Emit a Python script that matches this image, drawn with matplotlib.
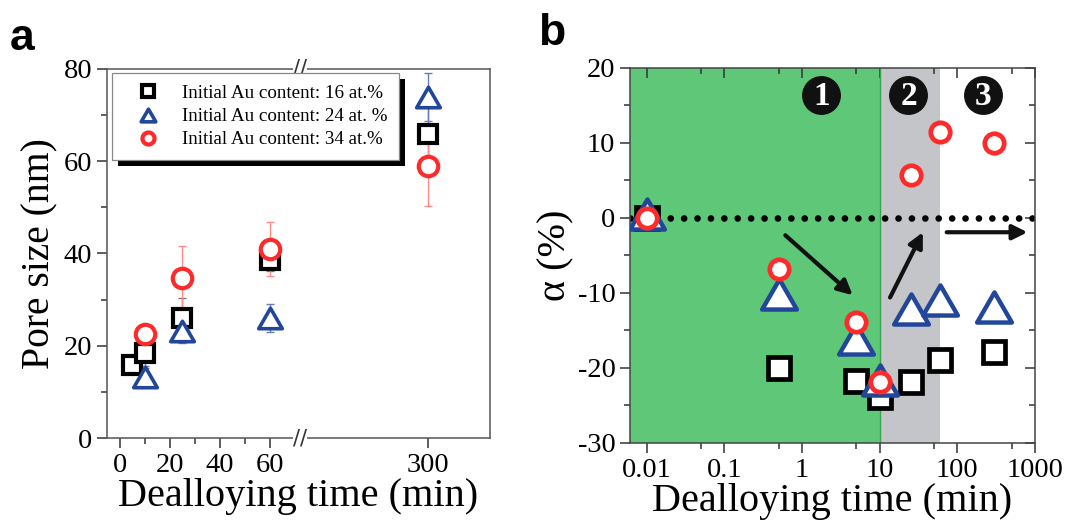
import numpy as np
import matplotlib
matplotlib.use('Agg')
import matplotlib.pyplot as plt
import matplotlib.ticker as mticker
from matplotlib.path import Path
from matplotlib.markers import MarkerStyle
from matplotlib.patches import Rectangle
from matplotlib.transforms import IdentityTransform, blended_transform_factory

plt.rcParams['font.family'] = 'Liberation Serif'
plt.rcParams['axes.unicode_minus'] = False

# ---- data, panel a (pore size) ----
sq_x = [5, 10, 25, 60, 300]
sq_y = [15.8, 18.4, 26.0, 38.6, 65.8]
sq_err = [0.8, 3.2, 4.4, 2.5, 6.5]

tri_x = [10, 25, 60, 300]
tri_y = [13.3, 23.2, 26.0, 74.0]
tri_err = [2.3, 2.5, 3.0, 5.2]

cir_x = [10, 25, 60, 300]
cir_y = [22.5, 34.6, 41.0, 59.0]
cir_err = [1.5, 7.0, 5.8, 8.6]

labels = ['Initial Au content: 16 at.%',
          'Initial Au content: 24 at. %',
          'Initial Au content: 34 at.%']

# ---- data, panel b (alpha) ----
b_x = [0.01, 0.5, 5, 10, 25, 60, 300]
sq_b = [0, -20.0, -21.7, -23.9, -21.9, -18.9, -17.9]
tri_b = [0.5, -10.1, -16.1, -21.6, -12.1, -11.0, -11.9]
cir_b = [0, -6.8, -13.9, -21.9, 5.7, 11.5, 10.0]

BLACK = '#000000'
BLUE = '#22479a'
RED = '#ff2b2b'

# equilateral triangle marker with rounded joins
tri_path = Path([(-1, -0.866), (1, -0.866), (0, 0.866), (-1, -0.866)],
                [Path.MOVETO, Path.LINETO, Path.LINETO, Path.CLOSEPOLY])
tri_marker = MarkerStyle(tri_path, joinstyle='round')

fig = plt.figure(figsize=(10.69, 5.25), dpi=100)
ax1 = fig.add_axes([0.1001, 0.1657, 0.3583, 0.7029])
ax2 = fig.add_axes([0.5893, 0.1562, 0.3789, 0.7143])

# ---------------- panel a ----------------
brk = 72
k = 0.2246


def fwd(x):
    x = np.asarray(x, dtype=float)
    return np.where(x <= brk, x, brk + (x - brk) * k)


def inv(y):
    y = np.asarray(y, dtype=float)
    return np.where(y <= brk, y, brk + (y - brk) / k)


ax1.set_xscale('function', functions=(fwd, inv))

ax1.errorbar(sq_x, sq_y, yerr=sq_err, fmt='none', ecolor='#777777',
             elinewidth=1, capsize=3, zorder=2)
ax1.errorbar(tri_x, tri_y, yerr=tri_err, fmt='none', ecolor='#6a7cbc',
             elinewidth=1, capsize=3, zorder=2)
ax1.errorbar(cir_x, cir_y, yerr=cir_err, fmt='none', ecolor='#ff8a8a',
             elinewidth=1, capsize=3, zorder=2)

h1, = ax1.plot(sq_x, sq_y, 's', ms=13, mew=3, mec=BLACK, mfc='white',
               ls='none', zorder=3)
h2, = ax1.plot(tri_x, tri_y, marker=tri_marker, ms=17, mew=2.6, mec=BLUE,
               mfc='white', ls='none', zorder=4)
h3, = ax1.plot(cir_x, cir_y, 'o', ms=14, mew=3, mec=RED, mfc='white',
               ls='none', zorder=5)

ax1.set_xlim(-5, 410)
ax1.set_ylim(0, 80)
ax1.xaxis.set_major_locator(mticker.FixedLocator([0, 20, 40, 60, 300]))
ax1.xaxis.set_minor_locator(mticker.FixedLocator([10, 30, 50]))
ax1.xaxis.set_major_formatter(mticker.FixedFormatter(['0', '20', '40', '60', '300']))
ax1.yaxis.set_major_locator(mticker.MultipleLocator(20))
ax1.yaxis.set_minor_locator(mticker.MultipleLocator(10))
ax1.tick_params(which='both', direction='out', top=False, right=False,
                labelsize=20.5, width=1.1, color='#333333')
ax1.tick_params(which='major', length=7)
ax1.tick_params(which='minor', length=4)
ax1.tick_params(axis='x', pad=4)
for s in ax1.spines.values():
    s.set_color('#555555')
    s.set_linewidth(1.1)

ax1.set_xlabel('Dealloying time (min)', fontsize=29, labelpad=0)
ax1.set_ylabel('Pore size (nm)', fontsize=28.5, labelpad=4)

# axis break marks
bt = blended_transform_factory(ax1.transData, ax1.transAxes)
for yy in (0, 1):
    ax1.text(brk, yy, '//', transform=bt, ha='center', va='center',
             fontsize=15, family='DejaVu Sans', color='#333333',
             bbox=dict(facecolor='white', edgecolor='none', pad=0),
             clip_on=False, zorder=6)

leg = ax1.legend([h1, h2, h3], labels, loc='upper left',
                 bbox_to_anchor=(0.012, 0.988), fontsize=13.7, markerscale=0.62,
                 frameon=True, fancybox=False, edgecolor='#888888',
                 framealpha=1, borderpad=0.6, labelspacing=0.3,
                 handlelength=2.6, handletextpad=0.5, borderaxespad=0)
leg.get_frame().set_linewidth(0.9)
leg.set_zorder(10)

# ---------------- panel b ----------------
ax2.set_xscale('log')
x_left = 10 ** -2.215
ax2.axvspan(x_left, 10, color='#5ec878', zorder=0, lw=0)
ax2.axvline(10, color='#3aa34f', lw=1, zorder=0.5)
ax2.axvspan(10, 60, color='#c4c5c9', zorder=0, lw=0)

ax2.axhline(0, color='black', lw=4.8, ls=(0, (0.01, 2.0)),
            dash_capstyle='round', zorder=1)

ax2.plot(b_x, sq_b, 's', ms=16, mew=3.4, mec=BLACK, mfc='white',
         ls='none', zorder=3)
ax2.plot(b_x, tri_b, marker=tri_marker, ms=25, mew=3.2, mec=BLUE,
         mfc='white', ls='none', zorder=4)
ax2.plot(b_x, cir_b, 'o', ms=14, mew=3.4, mec=RED, mfc='white',
         ls='none', zorder=5)

arrow_kw = dict(arrowstyle='-|>', color='#111111', lw=3, mutation_scale=22,
                shrinkA=0, shrinkB=0)
ax2.annotate('', xy=(4.5, -10.3), xytext=(0.61, -2.3), arrowprops=arrow_kw)
ax2.annotate('', xy=(36, -1.9), xytext=(13.6, -10.6), arrowprops=arrow_kw)
ax2.annotate('', xy=(800, -1.9), xytext=(73, -1.9), arrowprops=arrow_kw)

# region labels
for xn, num in zip([1.78, 23.5, 213], ['1', '2', '3']):
    ax2.plot([xn], [16.4], 'o', ms=27, color='#111111', zorder=6)
    ax2.text(xn, 16.2, num, ha='center', va='center', color='white',
             fontsize=24, fontweight='bold', zorder=7)

ax2.set_xlim(x_left, 1000)
ax2.set_ylim(-30, 20)
ax2.xaxis.set_major_locator(mticker.FixedLocator([0.01, 0.1, 1, 10, 100, 1000]))
ax2.xaxis.set_major_formatter(mticker.FixedFormatter(['0.01', '0.1', '1', '10', '100', '1000']))
ax2.xaxis.set_minor_locator(mticker.FixedLocator([0.05, 0.5, 5, 50, 500]))
ax2.xaxis.set_minor_formatter(mticker.NullFormatter())
ax2.yaxis.set_major_locator(mticker.MultipleLocator(10))
ax2.yaxis.set_minor_locator(mticker.MultipleLocator(5))
ax2.tick_params(which='both', direction='out', labelsize=20.5, width=1.1,
                color='#333333')
ax2.tick_params(which='major', length=7)
ax2.tick_params(which='minor', length=4)
ax2.tick_params(axis='x', pad=4)
# inward ticks on top and right
ax2t = ax2.secondary_xaxis('top')
ax2t.set_xticks([0.01, 0.1, 1, 10, 100, 1000])
ax2t.xaxis.set_minor_locator(mticker.FixedLocator([0.05, 0.5, 5, 50, 500]))
ax2t.tick_params(which='both', direction='in', labeltop=False, width=1.1,
                 color='#333333')
ax2t.tick_params(which='major', length=7)
ax2t.tick_params(which='minor', length=4)
ax2t.xaxis.set_minor_formatter(mticker.NullFormatter())
ax2t.spines['top'].set_visible(False)
ax2r = ax2.secondary_yaxis('right')
ax2r.yaxis.set_major_locator(mticker.MultipleLocator(10))
ax2r.yaxis.set_minor_locator(mticker.MultipleLocator(5))
ax2r.tick_params(which='both', direction='in', labelright=False, width=1.1,
                 color='#333333')
ax2r.tick_params(which='major', length=7)
ax2r.tick_params(which='minor', length=4)
ax2r.spines['right'].set_visible(False)
for s in ax2.spines.values():
    s.set_color('#444444')
    s.set_linewidth(1.1)

ax2.set_xlabel('Dealloying time (min)', fontsize=29, labelpad=0)
ax2.set_ylabel('α (%)', fontsize=29, labelpad=2)

# panel letters
fig.text(0.009, 0.965, 'a', fontsize=32, fontweight='bold',
         family='Liberation Sans', va='top', ha='left')
fig.text(0.503, 0.975, 'b', fontsize=32, fontweight='bold',
         family='Liberation Sans', va='top', ha='left')

# legend drop shadow
fig.canvas.draw()
bb = leg.get_window_extent()
shadow = Rectangle((bb.x0 + 6, bb.y0 - 6), bb.width, bb.height,
                   transform=IdentityTransform(), facecolor='black',
                   edgecolor='none', zorder=9, clip_on=False)
ax1.add_artist(shadow)

fig.savefig('out.png', dpi=100)
